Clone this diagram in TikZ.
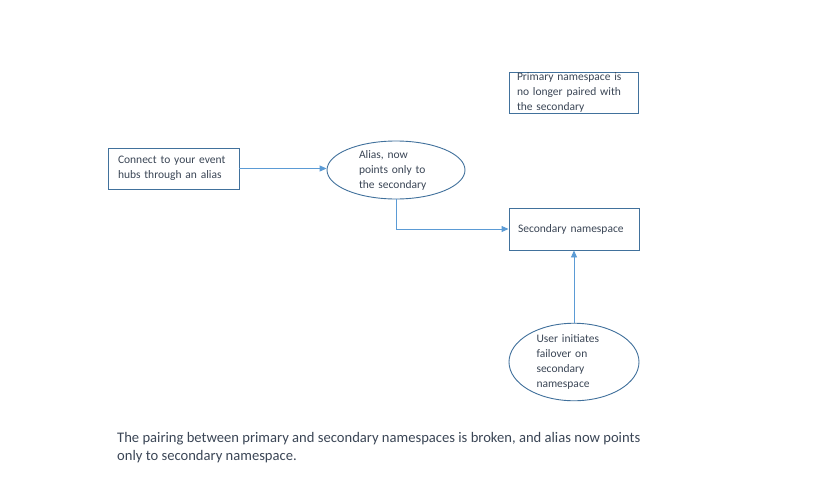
\documentclass[tikz,border=0pt]{standalone}
\usepackage{fontspec}
\setmainfont{Carlito}
\usetikzlibrary{shapes.geometric,arrows.meta}
\definecolor{edgeblue}{HTML}{41719C}
\definecolor{arrowblue}{HTML}{5B9BD5}
\definecolor{txt}{HTML}{3B4656}
\tikzset{
  every node/.style={text=txt, font=\fontsize{11.5}{15}\selectfont},
  boxnode/.style={draw=edgeblue, line width=0.9pt, rectangle, inner sep=0pt, align=left},
  ellnode/.style={draw=edgeblue, line width=0.9pt, ellipse, inner sep=0pt, align=left},
  conn/.style={draw=arrowblue, line width=0.9pt, -{Triangle[length=7pt,width=6pt]}}
}
\begin{document}
\begin{tikzpicture}[x=1pt,y=-1pt]
\useasboundingbox (0,0) rectangle (831,496);
\fill[white] (0,0) rectangle (831,496);
\node[boxnode, minimum width=131pt, minimum height=41pt, text width=111pt] (connect) at (173.5,168.5) {Connect to your event\\hubs through an alias};
\node[ellnode, minimum width=138pt, minimum height=58pt, text width=74pt] (alias) at (396,170) {Alias, now\\points only to\\the secondary};
\node[boxnode, minimum width=130pt, minimum height=42pt, text width=112pt] (secondary) at (574,229) {Secondary namespace};
\node[boxnode, minimum width=129pt, minimum height=41pt, text width=113pt] (primary) at (573.5,92.5) {Primary namespace is\\no longer paired with\\the secondary};
\node[ellnode, minimum width=130pt, minimum height=74pt, text width=75pt] (user) at (574,362) {User initiates\\failover on\\secondary\\namespace};
\node[anchor=north west, inner sep=0pt, align=left, font=\fontsize{14.6}{18}\selectfont] (caption) at (117,432) {The pairing between primary and secondary namespaces is broken, and alias now points\\only to secondary namespace.};
\draw[conn] (connect.east) -- (connect.east -| alias.west);
\draw[conn] (alias.south) |- (secondary.west);
\draw[conn] (user.north) -- (secondary.south);
\end{tikzpicture}
\end{document}
